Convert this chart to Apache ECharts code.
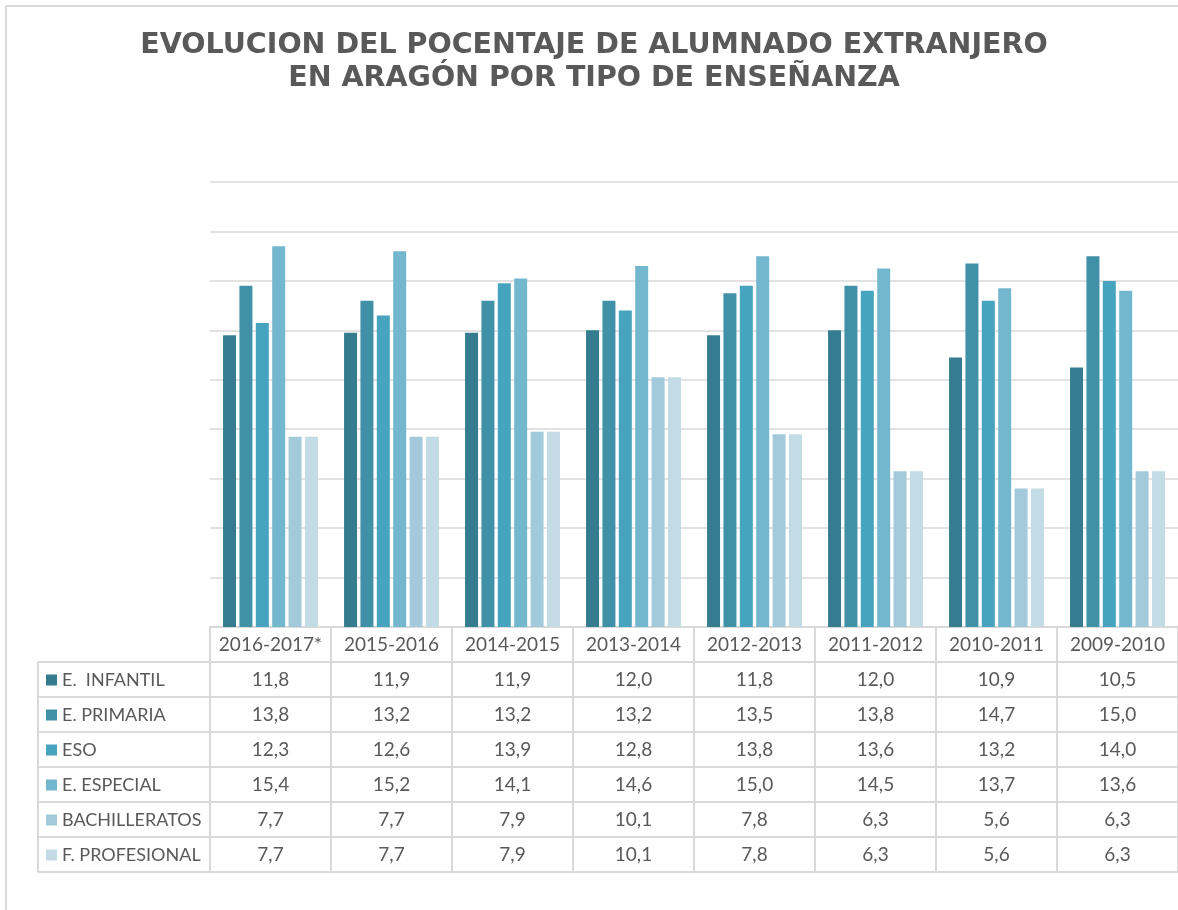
<!DOCTYPE html>
<html>
<head>
<meta charset="utf-8">
<title>Alumnado extranjero en Aragón</title>
<script src="https://cdn.jsdelivr.net/npm/echarts@6/dist/echarts.min.js"></script>
<style>
  html, body { margin: 0; padding: 0; background: #fff; }
  #chart { width: 1178px; height: 910px; }
</style>
</head>
<body>
<div id="chart"></div>
<script>
// cursos (de más reciente a más antiguo, como en el original)
const cursos = ['2016-2017*', '2015-2016', '2014-2015', '2013-2014', '2012-2013', '2011-2012', '2010-2011', '2009-2010'];

// porcentaje de alumnado extranjero por tipo de enseñanza
const infantil      = [11.8, 11.9, 11.9, 12.0, 11.8, 12.0, 10.9, 10.5];
const primaria      = [13.8, 13.2, 13.2, 13.2, 13.5, 13.8, 14.7, 15.0];
const eso           = [12.3, 12.6, 13.9, 12.8, 13.8, 13.6, 13.2, 14.0];
const especial      = [15.4, 15.2, 14.1, 14.6, 15.0, 14.5, 13.7, 13.6];
const bachilleratos = [7.7, 7.7, 7.9, 10.1, 7.8, 6.3, 5.6, 6.3];
const profesional   = [7.7, 7.7, 7.9, 10.1, 7.8, 6.3, 5.6, 6.3];

const nombres = ['E.  INFANTIL', 'E. PRIMARIA', 'ESO', 'E. ESPECIAL', 'BACHILLERATOS', 'F. PROFESIONAL'];
const valores = [infantil, primaria, eso, especial, bachilleratos, profesional];
const colores = ['#367c90', '#4090a8', '#47a4bf', '#73b7cf', '#a3cadb', '#c3dbe4'];

const titulo = ['EVOLUCION DEL POCENTAJE DE ALUMNADO EXTRANJERO', 'EN ARAGÓN POR TIPO DE ENSEÑANZA'];

// escala del eje y (sin etiquetas, solo líneas de división)
const yMin = 0;
const yMax = 18;
const yPaso = 2;

const gris = '#d9d9d9';
const texto = '#595959';
const fuente = 'Lato, "Open Sans", sans-serif';
const altoFila = 35;
const tablaIzq = 38;

const chart = echarts.init(document.getElementById('chart'));

const series = nombres.map((n, i) => ({
  name: n,
  type: 'bar',
  data: valores[i],
  barWidth: 13,
  barGap: '26%',
  itemStyle: { color: colores[i] },
  emphasis: { disabled: true }
}));

chart.setOption({
  backgroundColor: '#fff',
  animation: false,
  legend: {
    orient: 'vertical',
    left: 46,
    top: 670,
    padding: 0,
    itemWidth: 11,
    itemHeight: 11,
    itemGap: 15,
    icon: 'rect',
    selectedMode: false,
    textStyle: { fontFamily: fuente, fontSize: 18, lineHeight: 20, color: texto },
    data: nombres
  },
  grid: { left: 210, right: 0, top: 182, bottom: 283 },
  xAxis: {
    type: 'category',
    data: cursos,
    axisLine: { lineStyle: { color: gris, width: 2 } },
    axisTick: { show: true, interval: 0, length: altoFila, lineStyle: { color: gris, width: 2 } },
    axisLabel: { interval: 0, margin: 8, lineHeight: 20, fontFamily: fuente, fontSize: 19, color: texto }
  },
  yAxis: {
    type: 'value',
    min: yMin,
    max: yMax,
    interval: yPaso,
    axisLine: { show: false },
    axisTick: { show: false },
    axisLabel: { show: false },
    splitLine: { lineStyle: { color: gris, width: 1.5 } }
  },
  series: series
});

// tabla de datos bajo el gráfico, colocada con las escalas de los ejes
const centros = cursos.map((c, i) => chart.convertToPixel({ xAxisIndex: 0 }, i));
const banda = centros[1] - centros[0];
const base = chart.convertToPixel({ yAxisIndex: 0 }, 0);
const tablaTop = base + altoFila;
const tablaFin = tablaTop + altoFila * nombres.length;
const derecha = centros[centros.length - 1] + banda / 2;

const graficos = [];
const linea = (x1, y1, x2, y2) => ({
  type: 'line',
  silent: true,
  shape: { x1: x1, y1: y1, x2: x2, y2: y2 },
  style: { stroke: gris, lineWidth: 2 }
});

// título en dos líneas
titulo.forEach((t, i) => {
  graficos.push({
    type: 'text',
    silent: true,
    style: {
      text: t,
      x: 594,
      y: 46 + i * 33,
      textAlign: 'center',
      textVerticalAlign: 'middle',
      font: 'bold 28.5px "DejaVu Sans", Verdana, sans-serif',
      fill: texto
    }
  });
});

// marco exterior (solo se ven el borde superior e izquierdo)
graficos.push(linea(6, 6, 1178, 6));
graficos.push(linea(6, 6, 6, 910));

// líneas horizontales de las filas
for (let r = 0; r <= nombres.length; r++) {
  graficos.push(linea(tablaIzq, tablaTop + r * altoFila, derecha, tablaTop + r * altoFila));
}
// líneas verticales
graficos.push(linea(tablaIzq, tablaTop, tablaIzq, tablaFin));
for (let c = 0; c <= cursos.length; c++) {
  const x = centros[0] - banda / 2 + c * banda;
  graficos.push(linea(x, tablaTop, x, tablaFin));
}
// valores con coma decimal
valores.forEach((serie, r) => {
  serie.forEach((v, c) => {
    graficos.push({
      type: 'text',
      silent: true,
      style: {
        text: v.toFixed(1).replace('.', ','),
        x: centros[c],
        y: tablaTop + r * altoFila + altoFila / 2,
        textAlign: 'center',
        textVerticalAlign: 'middle',
        font: '19px ' + fuente,
        fill: texto
      }
    });
  });
});

chart.setOption({ graphic: graficos });
</script>
</body>
</html>
